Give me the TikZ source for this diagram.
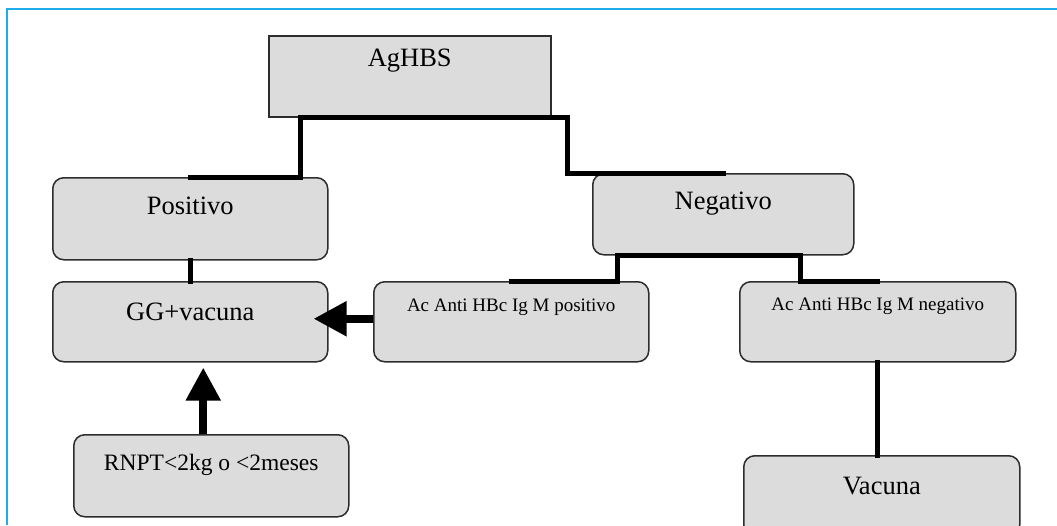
\documentclass[tikz,border=0pt]{standalone}
\usepackage{fontspec}
\setmainfont{Liberation Serif}
\usetikzlibrary{arrows.meta,calc}
\definecolor{boxfill}{RGB}{220,220,220}
\definecolor{boxline}{RGB}{45,45,45}
\definecolor{framecol}{RGB}{30,172,235}
\tikzset{
    box/.style={draw=boxline, fill=boxfill, line width=1.5pt, rounded corners=11pt,
        inner sep=0pt, minimum width=275pt, anchor=north west},
    big/.style={font=\fontsize{26.5}{30}\selectfont},
    mid/.style={font=\fontsize{23.5}{27}\selectfont},
    small/.style={font=\fontsize{19}{22}\selectfont},
    link/.style={line width=5pt, line cap=rect},
    arrow/.style={line width=8pt, -{Triangle[length=33pt,width=33pt]}}
}
\begin{document}
\begin{tikzpicture}[x=1pt,y=-1pt]
                \clip (0,0) rectangle (1057,525);
                \draw[framecol, line width=1.6pt] (7,525) -- (7,9) -- (1057,9);

                \node[box, big, sharp corners, minimum width=282pt, text height=31pt, text depth=50pt] (aghbs) at (268,35) {AgHBS};
                \node[box, big, text height=37pt, text depth=45pt] (pos) at (52,177) {Positivo};
                \node[box, big, minimum width=261pt, text height=36pt, text depth=45pt] (neg) at (592,173) {Negativo};
                \node[box, big, text height=39pt, text depth=41pt] (gg) at (52,281) {GG+vacuna};
                \node[box, small, text height=30pt, text depth=50pt] (acpos) at (373,281) {Ac Anti HBc Ig M positivo};
                \node[box, small, minimum width=276pt, text height=29pt, text depth=51pt] (acneg) at (739,281) {Ac Anti HBc Ig M negativo};
                \node[box, mid, text height=36pt, text depth=46pt] (rnpt) at (73,434) {RNPT<2kg o <2meses};
                \node[box, big, minimum width=276pt, text height=39pt, text depth=41pt] (vac) at (743,455) {Vacuna};

                \draw[link] ($(aghbs.south west)+(32,0)$) |- (pos.north);
                \draw[link] ($(aghbs.south west)+(32,0)$) -- (aghbs.south east) -- ++(16,0) |- (neg.north);
                \draw[link] (pos.south) -- (gg.north);
                \draw[link] ($(neg.south west)+(25,0)$) |- (acpos.north);
                \draw[link] ($(neg.south west)+(25,0)$) -- ($(neg.south west)+(208,0)$) |- (acneg.north);
                \draw[link] (acneg.south) -- (acneg.south |- vac.north);

                \draw[arrow, shorten >=-15pt] ($(acpos.west)+(0,-3)$) -- ($(gg.east)+(0,-3)$);
                \coordinate (rtop) at ($(rnpt.north)+(-8,0)$);
                \draw[arrow, shorten >=5pt] (rtop) -- (rtop |- gg.south);
\end{tikzpicture}
\end{document}
